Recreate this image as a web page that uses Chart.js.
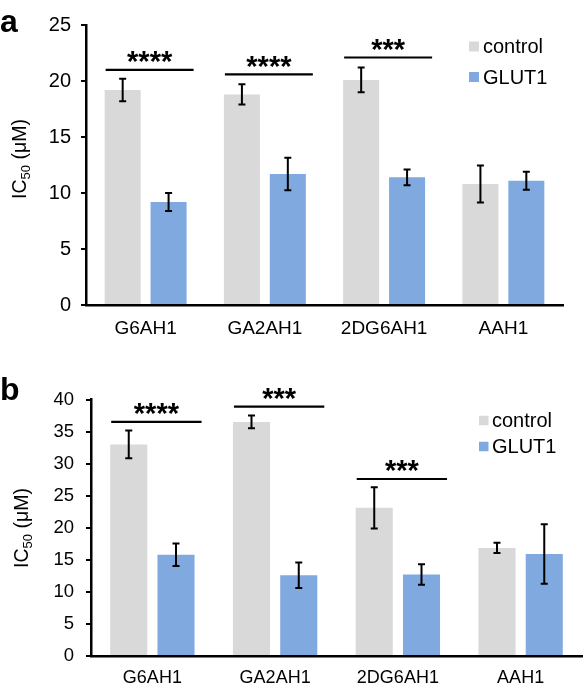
<!DOCTYPE html>
<html>
<head>
<meta charset="utf-8">
<script src="https://cdn.jsdelivr.net/npm/chart.js@4.4.1/dist/chart.umd.min.js"></script>
<style>
  body { margin: 0; background: #fff; }
  canvas { position: absolute; left: 0; }
</style>
</head>
<body>
<canvas id="chartA" width="588" height="352" style="top:0"></canvas>
<canvas id="chartB" width="588" height="342" style="top:352px"></canvas>
<script>
// data
const categories = ['G6AH1', 'GA2AH1', '2DG6AH1', 'AAH1'];
const seriesNames = ['control', 'GLUT1'];

// panel a
const ctrlA = [19.2, 18.8, 20.1, 10.8];
const ctrlErrA = [1.0, 0.9, 1.1, 1.65];
const glutA = [9.2, 11.7, 11.4, 11.1];
const glutErrA = [0.8, 1.45, 0.7, 0.8];
const sigCatA = [0, 1, 2];
const sigLevelA = [21.0, 20.6, 22.1];
const sigStarsA = ['****', '****', '***'];
const yMaxA = 25;

// panel b
const ctrlB = [33.0, 36.5, 23.1, 16.85];
const ctrlErrB = [2.15, 1.0, 3.2, 0.8];
const glutB = [15.8, 12.6, 12.7, 15.9];
const glutErrB = [1.75, 2.0, 1.6, 4.65];
const sigCatB = [0, 1, 2];
const sigLevelB = [36.5, 38.9, 27.6];
const sigStarsB = ['****', '***', '***'];
const yMaxB = 40;

const yStep = 5;

const FONT = '"Liberation Sans", Arial, Helvetica, sans-serif';
const GREY = '#d9d9d9';
const BLUE = '#80aadf';

// draws error bars, significance lines, legend, axis title and panel letter
const extrasPlugin = {
    id: 'extras',
    afterDatasetsDraw(chart) {
        const opt = chart.options.plugins.extras;
        const ctx = chart.ctx;
        const y = chart.scales.y;
        ctx.save();
        ctx.strokeStyle = '#000';
        ctx.fillStyle = '#000';

        // error bars
        ctx.lineWidth = 2;
        opt.errors.forEach(function (errs, di) {
            const meta = chart.getDatasetMeta(di);
            const vals = chart.data.datasets[di].data;
            meta.data.forEach(function (bar, i) {
                const top = y.getPixelForValue(vals[i] + errs[i]);
                const bot = y.getPixelForValue(vals[i] - errs[i]);
                ctx.beginPath();
                ctx.moveTo(bar.x, top);
                ctx.lineTo(bar.x, bot);
                ctx.moveTo(bar.x - 3.5, top);
                ctx.lineTo(bar.x + 3.5, top);
                ctx.moveTo(bar.x - 3.5, bot);
                ctx.lineTo(bar.x + 3.5, bot);
                ctx.stroke();
            });
        });

        // significance lines + stars
        const m0 = chart.getDatasetMeta(0), m1 = chart.getDatasetMeta(1);
        opt.sigCats.forEach(function (c, k) {
            const b0 = m0.data[c], b1 = m1.data[c];
            const x1 = b0.x - b0.width / 2 + 1;
            const x2 = b1.x + b1.width / 2 + 7;
            const ly = y.getPixelForValue(opt.sigLevels[k]);
            ctx.lineWidth = 2.2;
            ctx.beginPath();
            ctx.moveTo(x1, ly);
            ctx.lineTo(x2, ly);
            ctx.stroke();
            ctx.font = 'bold ' + opt.starSize + 'px ' + FONT;
            ctx.textAlign = 'center';
            ctx.textBaseline = 'alphabetic';
            const m = ctx.measureText(opt.sigStars[k]);
            const cy = ly - 12.6;
            ctx.fillText(opt.sigStars[k], (x1 + x2) / 2, cy + (m.actualBoundingBoxAscent - m.actualBoundingBoxDescent) / 2);
        });

        // legend
        const lg = opt.legend;
        ctx.font = lg.size + 'px ' + FONT;
        ctx.textAlign = 'left';
        ctx.textBaseline = 'middle';
        chart.data.datasets.forEach(function (ds, i) {
            const cy = lg.y + i * lg.gap;
            ctx.fillStyle = ds.backgroundColor;
            ctx.fillRect(lg.x, cy - lg.box / 2, lg.box, lg.box);
            ctx.fillStyle = '#000';
            ctx.fillText(ds.label, lg.textX, cy + 1);
        });

        // y axis title IC50 (μM) with subscript
        const t = opt.title;
        ctx.translate(t.x, t.y);
        ctx.rotate(-Math.PI / 2);
        const big = t.size + 'px ' + FONT;
        const small = Math.round(t.size * 0.65) + 'px ' + FONT;
        ctx.font = big;
        const w1 = ctx.measureText('IC').width;
        const w3 = ctx.measureText(' (\u03bcM)').width;
        ctx.font = small;
        const w2 = ctx.measureText('50').width;
        let x = -(w1 + w2 + w3) / 2;
        ctx.textBaseline = 'middle';
        ctx.font = big; ctx.fillText('IC', x, 0); x += w1;
        ctx.font = small; ctx.fillText('50', x, t.size * 0.28); x += w2;
        ctx.font = big; ctx.fillText(' (\u03bcM)', x, 0);
        ctx.setTransform(1, 0, 0, 1, 0, 0);

        // panel letter
        ctx.font = 'bold ' + opt.letter.size + 'px ' + FONT;
        ctx.textBaseline = 'alphabetic';
        ctx.fillText(opt.letter.text, opt.letter.x, opt.letter.y);
        ctx.restore();
    }
};

function makeChart(id, ctrl, glut, errs, sig, yMax, lay) {
    return new Chart(document.getElementById(id), {
        type: 'bar',
        data: {
            labels: categories,
            datasets: [{
                label: seriesNames[0],
                data: ctrl,
                backgroundColor: GREY,
                categoryPercentage: 0.77,
                barPercentage: 0.785
            }, {
                label: seriesNames[1],
                data: glut,
                backgroundColor: BLUE,
                categoryPercentage: 0.77,
                barPercentage: 0.785
            }]
        },
        options: {
            responsive: false,
            animation: false,
            layout: { padding: { top: lay.top, right: lay.right, left: 0, bottom: 0 } },
            scales: {
                x: {
                    grid: { display: false, drawTicks: false },
                    border: { color: '#000', width: 2.5 },
                    ticks: { color: '#000', font: { family: FONT, size: lay.xFont }, padding: lay.xPad },
                    afterFit: function (s) { s.height = lay.xHeight; }
                },
                y: {
                    min: 0,
                    max: yMax,
                    ticks: { stepSize: yStep, color: '#000', font: { family: FONT, size: lay.yFont }, padding: lay.yPad },
                    grid: { drawOnChartArea: false, drawTicks: true, tickLength: 5, color: '#000', lineWidth: 2 },
                    border: { color: '#000', width: 2.5 },
                    afterFit: function (s) { s.width = lay.yWidth; }
                }
            },
            plugins: {
                legend: { display: false },
                tooltip: { enabled: false },
                extras: {
                    errors: errs,
                    sigCats: sig[0],
                    sigLevels: sig[1],
                    sigStars: sig[2],
                    starSize: 29,
                    legend: lay.legend,
                    title: lay.title,
                    letter: lay.letter
                }
            }
        },
        plugins: [extrasPlugin]
    });
}

makeChart('chartA', ctrlA, glutA, [ctrlErrA, glutErrA], [sigCatA, sigLevelA, sigStarsA], yMaxA, {
    top: 25, right: 25, xHeight: 47, yWidth: 86,
    xFont: 19, xPad: 12, yFont: 20, yPad: 10,
    legend: { x: 469, y: 46.5, gap: 30.5, box: 10, textX: 483, size: 20 },
    title: { x: 21, y: 159, size: 19.5 },
    letter: { text: 'a', x: 0, y: 32, size: 32 }
});

makeChart('chartB', ctrlB, glutB, [ctrlErrB, glutErrB], [sigCatB, sigLevelB, sigStarsB], yMaxB, {
    top: 47.5, right: 6, xHeight: 38, yWidth: 91,
    xFont: 18, xPad: 11, yFont: 18.5, yPad: 12,
    legend: { x: 479, y: 68.5, gap: 26, box: 9.5, textX: 492, size: 20 },
    title: { x: 23, y: 176, size: 19.5 },
    letter: { text: 'b', x: 0, y: 48, size: 32 }
});
</script>
</body>
</html>
